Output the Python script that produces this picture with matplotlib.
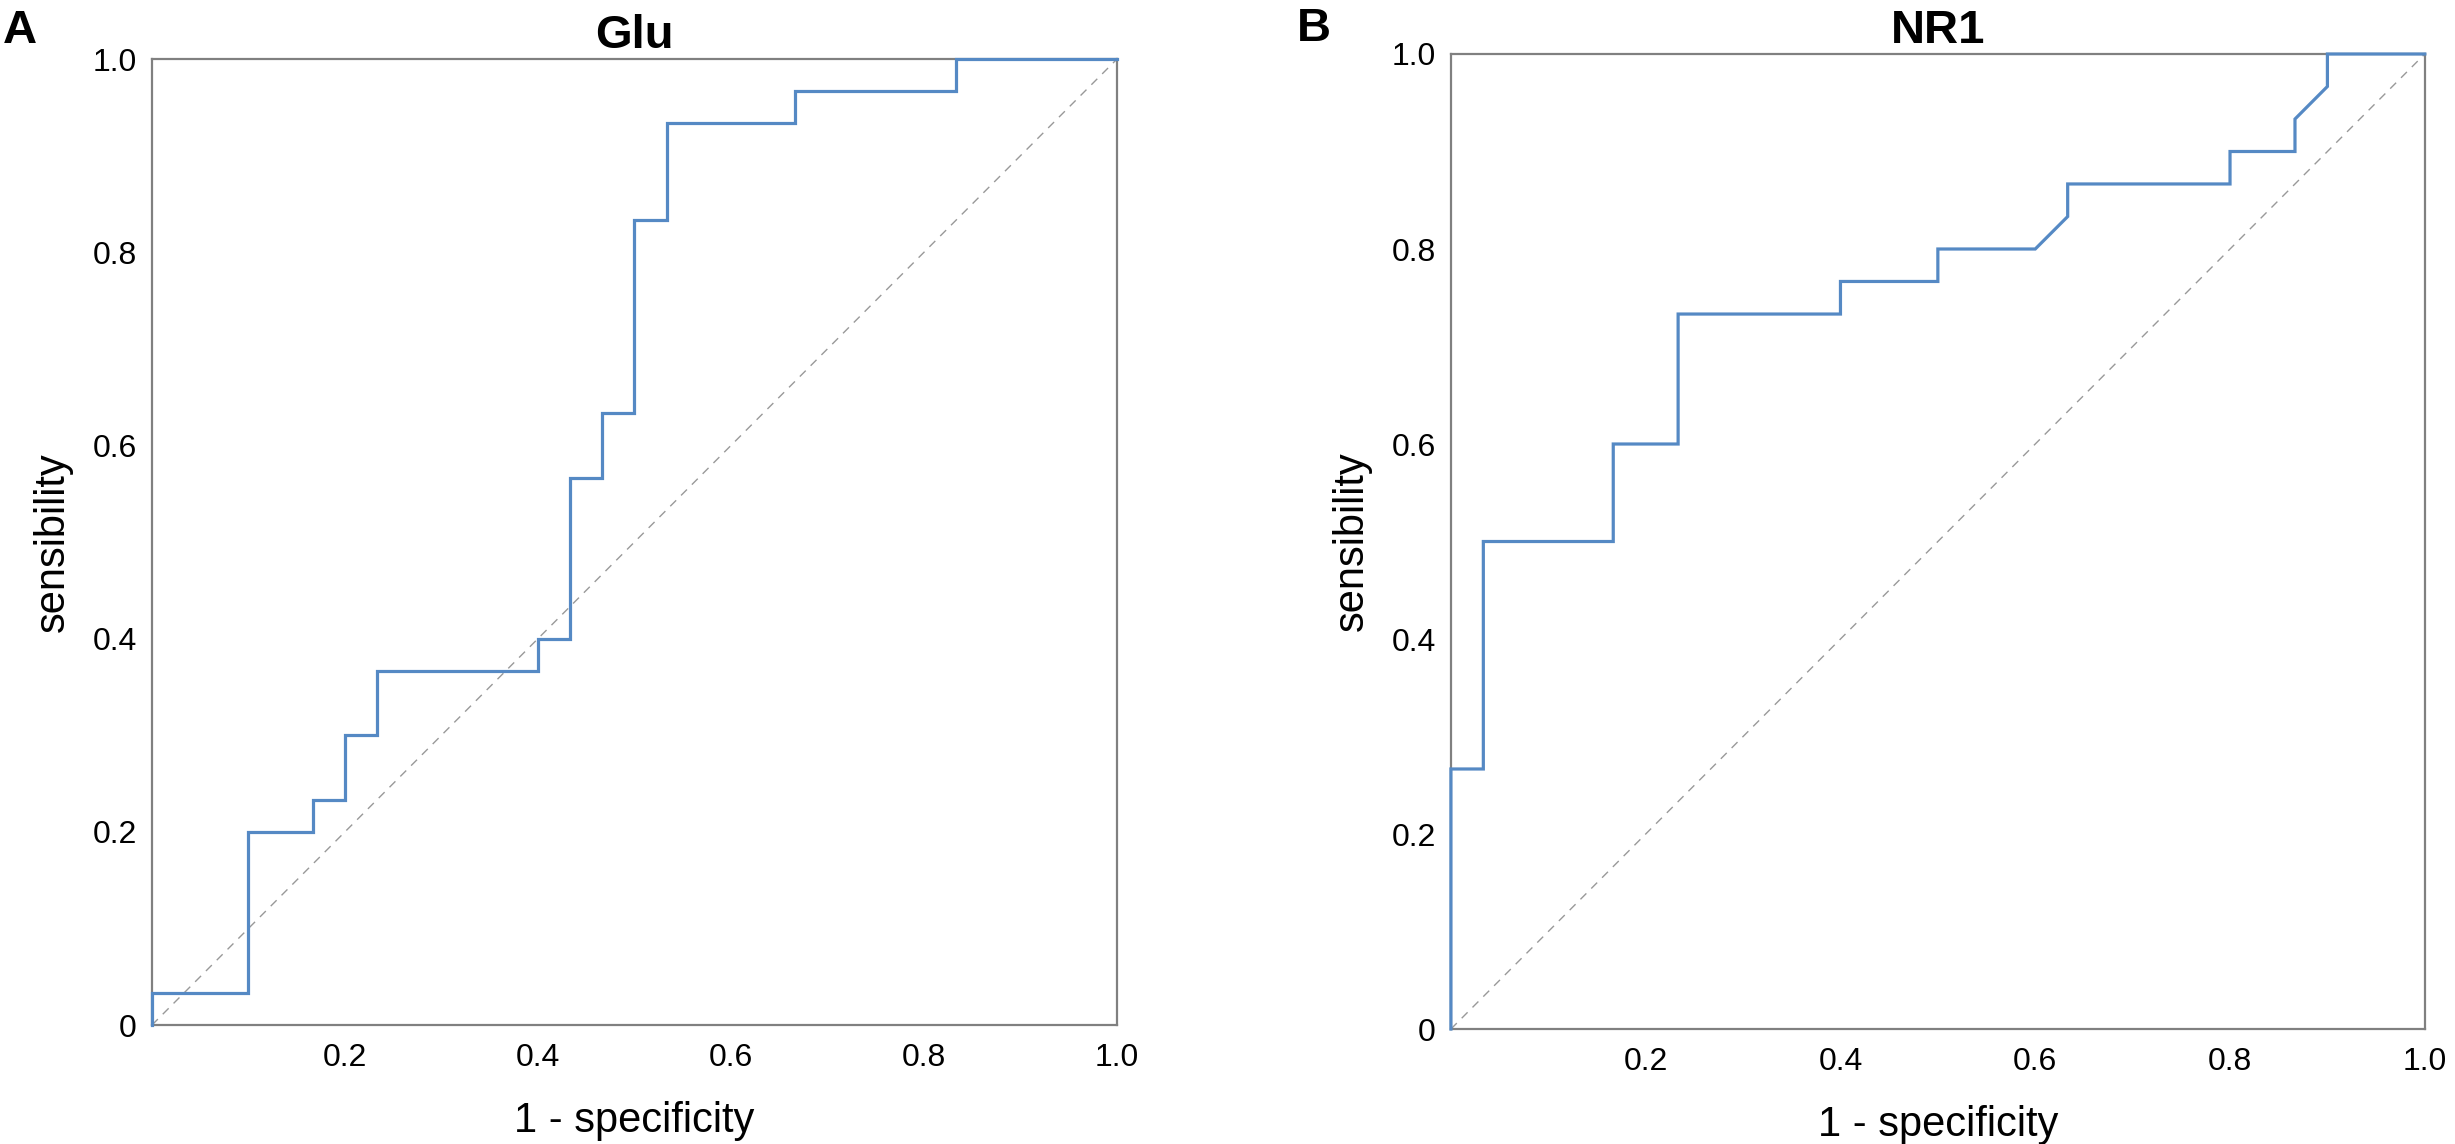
import matplotlib
matplotlib.use("Agg")
import matplotlib.pyplot as plt

plt.rcParams["font.family"] = ["Liberation Sans", "DejaVu Sans"]

# ROC points (1 - specificity, sensibility)
glu_fpr = [0, 0, 0.1, 0.1, 0.1667, 0.1667, 0.2, 0.2, 0.2333, 0.2333, 0.4, 0.4,
           0.4333, 0.4333, 0.4667, 0.4667, 0.5, 0.5, 0.5333, 0.5333, 0.6667, 0.6667,
           0.8333, 0.8333, 1.0]
glu_tpr = [0, 0.0333, 0.0333, 0.2, 0.2, 0.2333, 0.2333, 0.3, 0.3, 0.3667, 0.3667, 0.4,
           0.4, 0.5667, 0.5667, 0.6333, 0.6333, 0.8333, 0.8333, 0.9333, 0.9333, 0.9667,
           0.9667, 1.0, 1.0]

nr1_fpr = [0, 0, 0.0333, 0.0333, 0.1667, 0.1667, 0.2333, 0.2333, 0.4, 0.4, 0.5, 0.5,
           0.6, 0.6333, 0.6333, 0.8, 0.8, 0.8667, 0.8667, 0.9, 0.9, 1.0]
nr1_tpr = [0, 0.2667, 0.2667, 0.5, 0.5, 0.6, 0.6, 0.7333, 0.7333, 0.7667, 0.7667, 0.8,
           0.8, 0.8333, 0.8667, 0.8667, 0.9, 0.9, 0.9333, 0.9667, 1.0, 1.0]

x_ticks = [0.2, 0.4, 0.6, 0.8, 1.0]
x_labels = ["0.2", "0.4", "0.6", "0.8", "1.0"]
y_ticks = [0, 0.2, 0.4, 0.6, 0.8, 1.0]
y_labels = ["0", "0.2", "0.4", "0.6", "0.8", "1.0"]

LINE = "#5589C4"
SPINE = "#808080"

fig = plt.figure(figsize=(24.55, 11.44), dpi=100)
ax_a = fig.add_axes([0.0619, 0.1040, 0.3931, 0.8444])
ax_b = fig.add_axes([0.5910, 0.1005, 0.3967, 0.8523])

panels = [(ax_a, "Glu", glu_fpr, glu_tpr), (ax_b, "NR1", nr1_fpr, nr1_tpr)]
for ax, title, fpr, tpr in panels:
    ax.plot([0, 1], [0, 1], color="#999999", lw=1.0, dashes=(6, 5), zorder=2)
    ax.plot(fpr, tpr, color=LINE, lw=2.3, zorder=4, clip_on=False,
            solid_joinstyle="miter")
    ax.set_xlim(0, 1); ax.set_ylim(0, 1)
    ax.set_xticks(x_ticks); ax.set_xticklabels(x_labels)
    ax.set_yticks(y_ticks); ax.set_yticklabels(y_labels)
    ax.tick_params(length=0, labelsize=23, pad=11)
    ax.tick_params(axis="x", pad=13)
    for sp in ax.spines.values():
        sp.set_color(SPINE); sp.set_linewidth(1.6)
    ax.set_xlabel("1 - specificity", fontsize=30, labelpad=20)
    ax.set_ylabel("sensibility", fontsize=30, labelpad=14)
    ax.set_title(title, fontsize=34, fontweight="bold", pad=8)

fig.text(0.0012, 0.9624, "A", fontsize=34, fontweight="bold", va="baseline")
fig.text(0.5283, 0.9642, "B", fontsize=34, fontweight="bold", va="baseline")

fig.savefig("out.png", dpi=100, facecolor="white")
